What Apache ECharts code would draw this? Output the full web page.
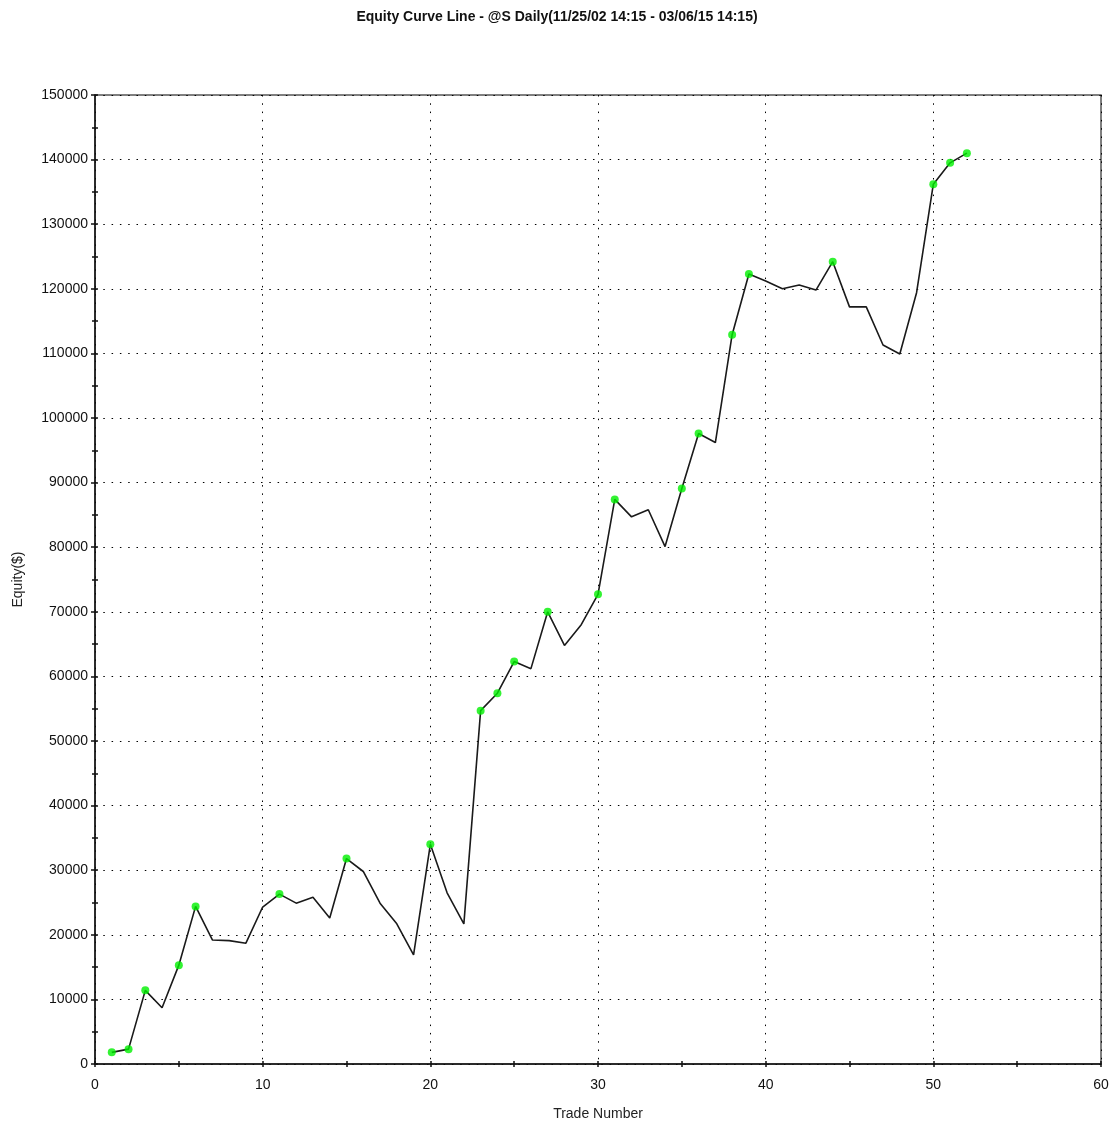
<!DOCTYPE html>
<html>
<head>
<meta charset="utf-8">
<title>Equity Curve Line</title>
<script src="https://cdn.jsdelivr.net/npm/echarts@6/dist/echarts.min.js"></script>
<style>
  html, body { margin: 0; padding: 0; background: #fff; }
  #main { width: 1114px; height: 1122px; }
</style>
</head>
<body>
<div id="main"></div>
<script>
  // equity after each trade (trade 1..52)
  var equity = [
    1800, 2300, 11400, 8700, 15300, 24400, 19200, 19100, 18700, 24300,
    26300, 24900, 25800, 22600, 31800, 29800, 24900, 21700, 16900, 34000,
    26500, 21700, 54700, 57400, 62300, 61200, 70000, 64800, 68000, 72700,
    87400, 84700, 85800, 80100, 89100, 97600, 96200, 112900, 122300, 121200,
    120000, 120600, 119800, 124200, 117200, 117200, 111300, 109900, 119400, 136200,
    139500, 141000
  ];
  // trades that got a green marker (new equity high)
  var markedTrades = [1, 2, 3, 5, 6, 11, 15, 20, 23, 24, 25, 27, 30, 31, 35, 36, 38, 39, 44, 50, 51, 52];

  var xTicks = { min: 0, max: 60, interval: 10 };
  var yTicks = { min: 0, max: 150000, interval: 10000 };

  var lineData = equity.map(function (v, i) { return [i + 1, v]; });
  var dotData = markedTrades.map(function (t) { return [t, equity[t - 1]]; });

  var font = 'Liberation Sans, Arial, sans-serif';
  var dotted = { color: '#000', width: 1, type: [1.5, 6.8] };
  var tickStyle = { color: '#111', width: 1.5 };

  var myChart = echarts.init(document.getElementById('main'), null, { renderer: 'canvas' });

  myChart.setOption({
    backgroundColor: '#fff',
    animation: false,
    title: {
      text: 'Equity Curve Line - @S Daily(11/25/02 14:15 - 03/06/15 14:15)',
      left: 'center',
      top: 5,
      textStyle: { fontFamily: font, fontSize: 14, fontWeight: 'bold', color: '#111' }
    },
    grid: {
      left: 95, right: 13, top: 95, bottom: 58,
      outerBoundsMode: 'none',
      containLabel: false,
      show: true, borderColor: '#555', borderWidth: 1.5, backgroundColor: 'transparent'
    },
    xAxis: [{
      type: 'value',
      min: xTicks.min, max: xTicks.max, interval: xTicks.interval,
      name: 'Trade Number',
      nameLocation: 'middle',
      nameGap: 43,
      nameTextStyle: { fontFamily: font, fontSize: 14, color: '#222' },
      axisLine: { show: true, onZero: false, lineStyle: { color: '#111', width: 1.5 } },
      axisTick: { show: true, length: 3, lineStyle: tickStyle },
      minorTick: { show: true, splitNumber: 2, length: 3, lineStyle: tickStyle },
      axisLabel: { fontFamily: font, fontSize: 14, color: '#111', margin: 14 },
      splitLine: { show: true, lineStyle: dotted }
    }, {
      // inner half of the ticks, so they cross the axis line
      type: 'value', position: 'bottom',
      min: xTicks.min, max: xTicks.max, interval: xTicks.interval,
      axisLine: { show: false },
      axisTick: { show: true, inside: true, length: 3, lineStyle: tickStyle },
      minorTick: { show: true, splitNumber: 2, length: 3, lineStyle: tickStyle },
      axisLabel: { show: false },
      splitLine: { show: false }
    }],
    yAxis: [{
      type: 'value',
      min: yTicks.min, max: yTicks.max, interval: yTicks.interval,
      name: 'Equity($)',
      nameLocation: 'middle',
      nameGap: 70,
      nameTextStyle: { fontFamily: font, fontSize: 14, color: '#222' },
      axisLine: { show: true, onZero: false, lineStyle: { color: '#111', width: 1.5 } },
      axisTick: { show: true, length: 4, lineStyle: tickStyle },
      minorTick: { show: true, splitNumber: 2, length: 3, lineStyle: tickStyle },
      axisLabel: {
        fontFamily: font, fontSize: 14, color: '#111', margin: 7,
        formatter: function (v) { return String(v); }
      },
      splitLine: { show: true, lineStyle: dotted }
    }, {
      type: 'value', position: 'left',
      min: yTicks.min, max: yTicks.max, interval: yTicks.interval,
      axisLine: { show: false },
      axisTick: { show: true, inside: true, length: 3, lineStyle: tickStyle },
      minorTick: { show: true, splitNumber: 2, length: 3, lineStyle: tickStyle },
      axisLabel: { show: false },
      splitLine: { show: false }
    }],
    series: [{
      name: 'Equity',
      type: 'line',
      data: lineData,
      symbol: 'none',
      lineStyle: { color: '#1a1a1a', width: 1.6 },
      z: 3
    }, {
      name: 'New High',
      type: 'scatter',
      data: dotData,
      symbol: 'circle',
      symbolSize: 8,
      itemStyle: { color: '#00f000' },
      z: 4
    }]
  });
</script>
</body>
</html>
